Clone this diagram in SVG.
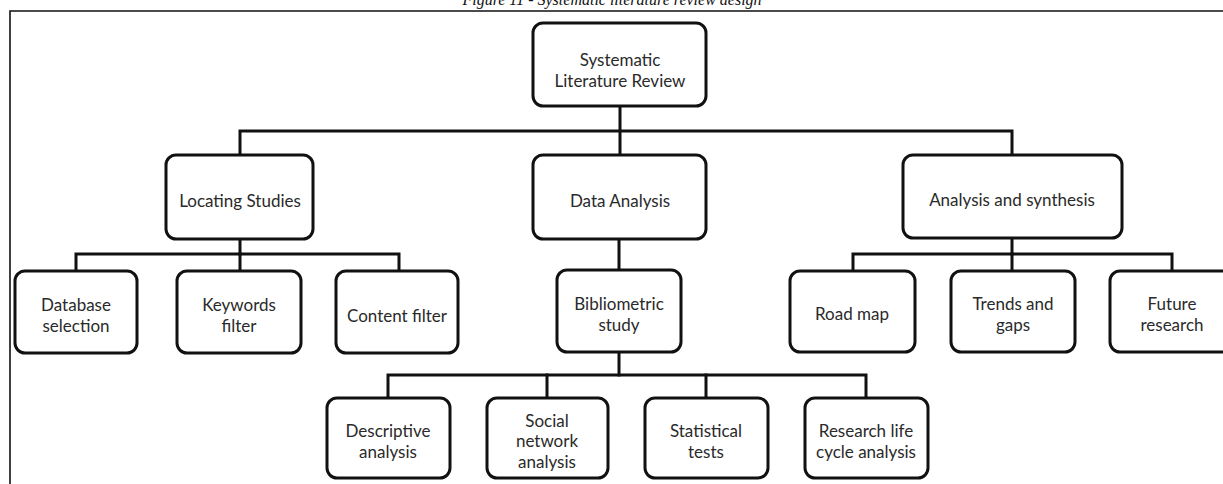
<svg xmlns="http://www.w3.org/2000/svg" width="1223" height="484" viewBox="0 0 1223 484">
  <style>
    .box { fill: #ffffff; stroke: #111111; stroke-width: 3; }
    .lbl { font-family: Lato, "Open Sans", "Liberation Sans", sans-serif; font-size: 17px; fill: #2a2a2a; text-anchor: middle; }
    .wire { fill: none; stroke: #111111; stroke-width: 3; stroke-linecap: square; }
    .frame { fill: none; stroke: #111111; stroke-width: 1.6; }
    .caption { font-family: "Liberation Serif", serif; font-style: italic; font-size: 16px; fill: #111111; text-anchor: middle; }
  </style>

  <rect width="1223" height="484" fill="#ffffff"/>

  <!-- caption above the frame -->
  <text class="caption" x="612" y="5">Figure 11 - Systematic literature review design</text>

  <!-- figure frame (top and left edges) -->
  <path class="frame" d="M10,484 V11 H1223"/>

  <!-- connectors -->
  <g id="connectors">
    <path class="wire" d="M620,106 V155"/>
    <path class="wire" d="M240,155 V131 H1012 V155"/>
    <path class="wire" d="M240,239 V254"/>
    <path class="wire" d="M76,271 V254 H399 V271"/>
    <path class="wire" d="M240,254 V271"/>
    <path class="wire" d="M1012,238 V254"/>
    <path class="wire" d="M853,271 V254 H1172 V271"/>
    <path class="wire" d="M1012,254 V271"/>
    <path class="wire" d="M619,239 V270"/>
    <path class="wire" d="M619,352 V375"/>
    <path class="wire" d="M388,398 V375 H866 V398"/>
    <path class="wire" d="M547,375 V398"/>
    <path class="wire" d="M706,375 V398"/>
  </g>

  <g id="root">
    <rect class="box" x="533" y="23" width="173" height="83" rx="10"/>
    <text class="lbl" x="620" y="66">Systematic</text>
    <text class="lbl" x="620" y="87">Literature Review</text>
  </g>

  <g id="locating">
    <rect class="box" x="166" y="155" width="147" height="84" rx="10"/>
    <text class="lbl" x="240" y="207">Locating Studies</text>
  </g>

  <g id="data-analysis">
    <rect class="box" x="533" y="155" width="173" height="84" rx="10"/>
    <text class="lbl" x="620" y="207">Data Analysis</text>
  </g>

  <g id="synthesis">
    <rect class="box" x="903" y="155" width="219" height="83" rx="10"/>
    <text class="lbl" x="1012" y="206">Analysis and synthesis</text>
  </g>

  <g id="database">
    <rect class="box" x="15" y="271" width="122" height="82" rx="10"/>
    <text class="lbl" x="76" y="311">Database</text>
    <text class="lbl" x="76" y="332">selection</text>
  </g>

  <g id="keywords">
    <rect class="box" x="177" y="271" width="124" height="82" rx="10"/>
    <text class="lbl" x="239" y="311">Keywords</text>
    <text class="lbl" x="239" y="332">filter</text>
  </g>

  <g id="content">
    <rect class="box" x="336" y="271" width="122" height="82" rx="10"/>
    <text class="lbl" x="397" y="322">Content filter</text>
  </g>

  <g id="bibliometric">
    <rect class="box" x="557" y="270" width="124" height="82" rx="10"/>
    <text class="lbl" x="619" y="310">Bibliometric</text>
    <text class="lbl" x="619" y="331">study</text>
  </g>

  <g id="roadmap">
    <rect class="box" x="790" y="271" width="125" height="81" rx="10"/>
    <text class="lbl" x="852" y="320">Road map</text>
  </g>

  <g id="trends">
    <rect class="box" x="951" y="271" width="124" height="81" rx="10"/>
    <text class="lbl" x="1013" y="310">Trends and</text>
    <text class="lbl" x="1013" y="331">gaps</text>
  </g>

  <g id="future">
    <rect class="box" x="1110" y="271" width="124" height="81" rx="10"/>
    <text class="lbl" x="1172" y="310">Future</text>
    <text class="lbl" x="1172" y="331">research</text>
  </g>

  <g id="descriptive">
    <rect class="box" x="327" y="398" width="123" height="80" rx="10"/>
    <text class="lbl" x="388" y="437">Descriptive</text>
    <text class="lbl" x="388" y="458">analysis</text>
  </g>

  <g id="social">
    <rect class="box" x="487" y="398" width="121" height="80" rx="10"/>
    <text class="lbl" x="547" y="427">Social</text>
    <text class="lbl" x="547" y="447">network</text>
    <text class="lbl" x="547" y="468">analysis</text>
  </g>

  <g id="statistical">
    <rect class="box" x="645" y="398" width="123" height="80" rx="10"/>
    <text class="lbl" x="706" y="437">Statistical</text>
    <text class="lbl" x="706" y="458">tests</text>
  </g>

  <g id="lifecycle">
    <rect class="box" x="805" y="398" width="123" height="80" rx="10"/>
    <text class="lbl" x="866" y="437">Research life</text>
    <text class="lbl" x="866" y="458">cycle analysis</text>
  </g>
</svg>
